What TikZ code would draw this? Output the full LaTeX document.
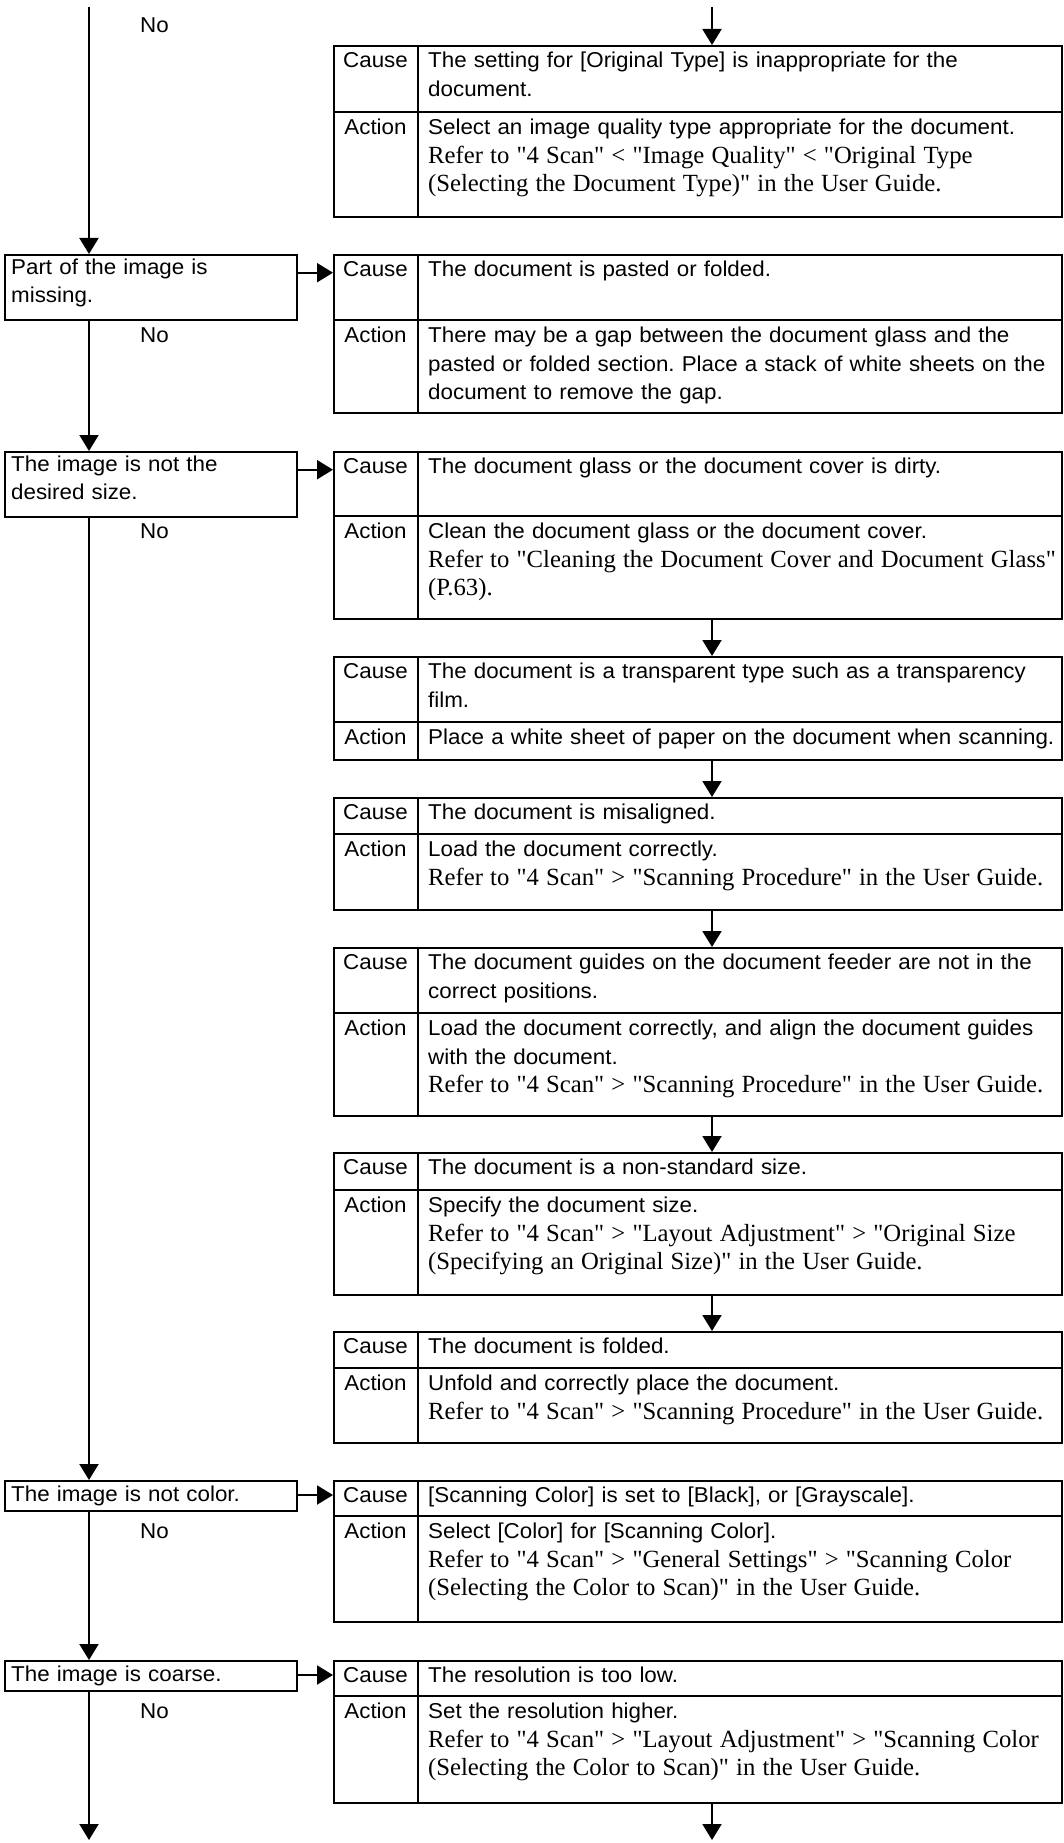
\documentclass[tikz,border=0pt]{standalone}
\usepackage{fontspec}
\setmainfont{Liberation Serif}[Ligatures=TeXOff]
\setsansfont{Liberation Sans}[FakeStretch=1.04]
\usetikzlibrary{arrows.meta}
\frenchspacing
\newcommand\rfx[1]{{\rmfamily\fontsize{24.7pt}{28.5pt}\selectfont #1}}
\newcommand\mktable[4]{%
  \node[frame, minimum width=728pt, minimum height={(#4-#2)*1pt}] (#1) at (333,#2) {};
  \draw[line width=2pt] (333,#3) -- (1061,#3);
  \draw[line width=1.6pt] (418,#2) -- (418,#4);
  \node[lbl] (#1c) at (375.5,#2+2.55) {\strut Cause};
  \node[lbl] (#1a) at (375.5,#3+2.55) {\strut Action};
}
\begin{document}
\frenchspacing
\begin{tikzpicture}[x=1pt,y=-1pt,
  frame/.style={draw, line width=2pt, inner sep=0pt, anchor=north west},
  txt/.style={inner sep=0pt, anchor=north west, align=left, text width=700pt,
    font=\sffamily\fontsize{21.5pt}{28.5pt}\selectfont\frenchspacing},
  lbl/.style={inner sep=0pt, anchor=north, font=\sffamily\fontsize{21.5pt}{28.5pt}\selectfont},
  arr/.style={line width=2pt, -{Triangle[width=19pt,length=16pt]}},
  bx/.style={frame, minimum width=292pt}]
\useasboundingbox (0,0) rectangle (1063,1843);
\coordinate (ls) at (89,7);
\coordinate (rs) at (712,7);
\coordinate (le) at (89,1840);
\coordinate (re) at (712,1840);

% tables
\mktable{t1}{45}{112}{216}
\mktable{t2}{254}{320}{412}
\mktable{t3}{451}{516}{618}
\mktable{t4}{656}{722}{759}
\mktable{t5}{797}{834}{909}
\mktable{t6}{947}{1013}{1115}
\mktable{t7}{1152}{1190}{1294}
\mktable{t8}{1331}{1368}{1442}
\mktable{t9}{1480}{1516}{1621}
\mktable{t10}{1660}{1696}{1802}

% left boxes
\node[bx, minimum height=65pt] (b2) at (4,254) {};
\node[bx, minimum height=65pt] (b3) at (4,451) {};
\node[bx, minimum height=30pt] (b4) at (4,1480) {};
\node[bx, minimum height=30pt] (b5) at (4,1660) {};
\node[txt] (q2) at (11,254) {\strut Part of the image is\\missing.};
\node[txt] (q3) at (11,451) {\strut The image is not the\\desired size.};
\node[txt] (q4) at (11,1481.5) {\strut The image is not color.};
\node[txt] (q5) at (11,1661.5) {\strut The image is coarse.};

% No labels
\node[txt] (n1) at (140,12) {\strut No};
\node[txt] (n2) at (140,322.5) {\strut No};
\node[txt] (n3) at (140,518.5) {\strut No};
\node[txt] (n4) at (140,1518.5) {\strut No};
\node[txt] (n5) at (140,1698.5) {\strut No};

% table texts
\node[txt] (c1) at (428,47.5) {\strut The setting for [Original Type] is inappropriate for the\\document.};
\node[txt] (a1) at (428,114.5) {\strut Select an image quality type appropriate for the document.\\\rfx{Refer to "4 Scan" < "Image Quality" < "Original Type}\\\rfx{(Selecting the Document Type)" in the User Guide.}};

\node[txt] (c2) at (428,256.5) {\strut The document is pasted or folded.};
\node[txt] (a2) at (428,322.5) {\strut There may be a gap between the document glass and the\\pasted or folded section. Place a stack of white sheets on the\\document to remove the gap.};

\node[txt] (c3) at (428,453.5) {\strut The document glass or the document cover is dirty.};
\node[txt] (a3) at (428,518.5) {\strut Clean the document glass or the document cover.\\\rfx{Refer to "Cleaning the Document Cover and Document Glass"}\\\rfx{(P.63).}};

\node[txt] (c4) at (428,658.5) {\strut The document is a transparent type such as a transparency\\film.};
\node[txt] (a4) at (428,724.5) {\strut Place a white sheet of paper on the document when scanning.};

\node[txt] (c5) at (428,799.5) {\strut The document is misaligned.};
\node[txt] (a5) at (428,836.5) {\strut Load the document correctly.\\\rfx{Refer to "4 Scan" > "Scanning Procedure" in the User Guide.}};

\node[txt] (c6) at (428,949.5) {\strut The document guides on the document feeder are not in the\\correct positions.};
\node[txt] (a6) at (428,1015.5) {\strut Load the document correctly, and align the document guides\\with the document.\\\rfx{Refer to "4 Scan" > "Scanning Procedure" in the User Guide.}};

\node[txt] (c7) at (428,1154.5) {\strut The document is a non-standard size.};
\node[txt] (a7) at (428,1192.5) {\strut Specify the document size.\\\rfx{Refer to "4 Scan" > "Layout Adjustment" > "Original Size}\\\rfx{(Specifying an Original Size)" in the User Guide.}};

\node[txt] (c8) at (428,1333.5) {\strut The document is folded.};
\node[txt] (a8) at (428,1370.5) {\strut Unfold and correctly place the document.\\\rfx{Refer to "4 Scan" > "Scanning Procedure" in the User Guide.}};

\node[txt] (c9) at (428,1482.5) {\strut [Scanning Color] is set to [Black], or [Grayscale].};
\node[txt] (a9) at (428,1518.5) {\strut Select [Color] for [Scanning Color].\\\rfx{Refer to "4 Scan" > "General Settings" > "Scanning Color}\\\rfx{(Selecting the Color to Scan)" in the User Guide.}};

\node[txt] (c10) at (428,1662.5) {\strut The resolution is too low.};
\node[txt] (a10) at (428,1698.5) {\strut Set the resolution higher.\\\rfx{Refer to "4 Scan" > "Layout Adjustment" > "Scanning Color}\\\rfx{(Selecting the Color to Scan)" in the User Guide.}};

% left flow
\draw[arr] (ls) -- (ls |- b2.north);
\draw[arr] (ls |- b2.south) -- (ls |- b3.north);
\draw[arr] (ls |- b3.south) -- (ls |- b4.north);
\draw[arr] (ls |- b4.south) -- (ls |- b5.north);
\draw[arr] (le |- b5.south) -- (le);

% right flow
\draw[arr] (rs) -- (rs |- t1.north);
\draw[arr] (rs |- t3.south) -- (rs |- t4.north);
\draw[arr] (rs |- t4.south) -- (rs |- t5.north);
\draw[arr] (rs |- t5.south) -- (rs |- t6.north);
\draw[arr] (rs |- t6.south) -- (rs |- t7.north);
\draw[arr] (rs |- t7.south) -- (rs |- t8.north);
\draw[arr] (re |- t10.south) -- (re);

% horizontal arrows
\draw[arr] ([yshift=-18.7pt]b2.north east) -- ([yshift=-18.7pt]t2.north west);
\draw[arr] ([yshift=-18.7pt]b3.north east) -- ([yshift=-18.7pt]t3.north west);
\draw[arr] ([yshift=-15pt]b4.north east) -- ([yshift=-15pt]t9.north west);
\draw[arr] ([yshift=-15pt]b5.north east) -- ([yshift=-15pt]t10.north west);
\end{tikzpicture}
\end{document}
